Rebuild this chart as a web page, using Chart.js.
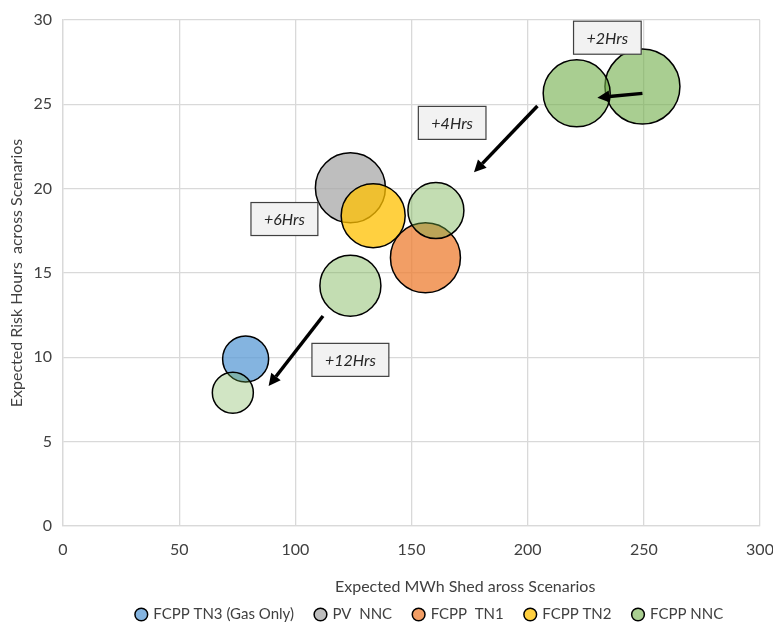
<!DOCTYPE html>
<html>
<head>
<meta charset="utf-8">
<script src="https://cdn.jsdelivr.net/npm/chart.js@4.4.1/dist/chart.umd.min.js"></script>
<style>
  html, body { margin: 0; padding: 0; background: #fff; }
  #wrap { width: 773px; height: 626px; }
</style>
</head>
<body>
<div id="wrap"><canvas id="bubbles"></canvas></div>
<script>
// Series and values
const seriesNames = ["FCPP TN3 (Gas Only)", "PV  NNC", "FCPP  TN1", "FCPP TN2", "FCPP NNC"];
const mwhShed = [
  [78.6],
  [123.7],
  [156.0],
  [133.5],
  [249.4, 221.1, 160.5, 123.7, 73.1]
];
const riskHours = [
  [9.9],
  [20.05],
  [15.9],
  [18.4],
  [26.05, 25.65, 18.7, 14.25, 7.9]
];
const bubbleSize = [
  [23],
  [35],
  [35],
  [32],
  [37.5, 33.5, 28, 30.5, 20.5]
];
const xTicks = [0, 50, 100, 150, 200, 250, 300];
const yTicks = [0, 5, 10, 15, 20, 25, 30];

// Shift annotations (data coordinates)
const shiftLabels = [
  { text: "+2Hrs", x: 234.3, y: 28.95 },
  { text: "+4Hrs", x: 167.5, y: 23.9 },
  { text: "+6Hrs", x: 95.3, y: 18.2 },
  { text: "+12Hrs", x: 123.7, y: 9.85 }
];
const shiftArrows = [
  { from: [249.4, 25.65], to: [230.0, 25.39] },
  { from: [204.2, 24.9], to: [176.9, 20.97] },
  { from: [111.9, 12.45], to: [88.5, 8.3] }
];

const xTitle = "Expected MWh Shed aross Scenarios";

const fills = [
  ["rgba(91,155,213,0.75)"],
  ["rgba(165,165,165,0.72)"],
  ["rgba(237,125,49,0.75)"],
  ["rgba(255,192,0,0.75)"],
  ["rgba(112,173,71,0.6)", "rgba(112,173,71,0.6)", "rgba(112,173,71,0.42)", "rgba(112,173,71,0.42)", "rgba(112,173,71,0.32)"]
];

const FONT = "Lato";

const datasets = seriesNames.map((name, i) => ({
  label: name,
  data: mwhShed[i].map((x, j) => ({ x: x, y: riskHours[i][j], r: bubbleSize[i][j] })),
  backgroundColor: fills[i],
  borderColor: "#000",
  borderWidth: 1.5,
  hoverRadius: 0,
  // later series sit on top
  order: seriesNames.length - 1 - i
}));

const annotations = {
  id: "annotations",
  afterDatasetsDraw(chart) {
    const ctx = chart.ctx;
    const xs = chart.scales.x, ys = chart.scales.y;
    ctx.save();

    // arrows
    ctx.strokeStyle = "#000";
    ctx.fillStyle = "#000";
    ctx.lineWidth = 3.5;
    shiftArrows.forEach(a => {
      const x1 = xs.getPixelForValue(a.from[0]), y1 = ys.getPixelForValue(a.from[1]);
      const x2 = xs.getPixelForValue(a.to[0]), y2 = ys.getPixelForValue(a.to[1]);
      const ang = Math.atan2(y2 - y1, x2 - x1);
      const head = 12, half = 6;
      const bx = x2 - head * Math.cos(ang), by = y2 - head * Math.sin(ang);
      ctx.beginPath();
      ctx.moveTo(x1, y1);
      ctx.lineTo(bx, by);
      ctx.stroke();
      ctx.beginPath();
      ctx.moveTo(x2, y2);
      ctx.lineTo(bx + half * Math.sin(ang), by - half * Math.cos(ang));
      ctx.lineTo(bx - half * Math.sin(ang), by + half * Math.cos(ang));
      ctx.closePath();
      ctx.fill();
    });

    // label boxes
    ctx.font = "italic 16px " + FONT;
    ctx.textAlign = "center";
    ctx.textBaseline = "middle";
    shiftLabels.forEach(l => {
      const cx = xs.getPixelForValue(l.x), cy = ys.getPixelForValue(l.y);
      const w = ctx.measureText(l.text).width + 26, h = 33;
      ctx.fillStyle = "#f2f2f2";
      ctx.fillRect(cx - w / 2, cy - h / 2, w, h);
      ctx.strokeStyle = "#404040";
      ctx.lineWidth = 1.2;
      ctx.strokeRect(cx - w / 2, cy - h / 2, w, h);
      ctx.fillStyle = "#262626";
      ctx.fillText(l.text, cx, cy + 1);
    });

    // x axis title, set right of the plot centre
    const area = chart.chartArea;
    ctx.font = "16px " + FONT;
    ctx.fillStyle = "#404040";
    ctx.fillText(xTitle, area.left + area.width * 0.577, xs.bottom + 2);
    ctx.restore();
  }
};

// legend sits low and a little right of centre
const legendLayout = {
  id: "legendLayout",
  beforeInit(chart) {
    const legend = chart.legend;
    const fit = legend.fit;
    legend.fit = function () {
      fit.call(this);
      this.height = 41;
    };
  },
  afterLayout(chart) {
    chart.legend.left += 50;
    chart.legend.right += 50;
  }
};

new Chart(document.getElementById("bubbles"), {
  type: "bubble",
  data: { datasets: datasets },
  plugins: [annotations, legendLayout],
  options: {
    responsive: true,
    maintainAspectRatio: false,
    animation: false,
    events: [],
    layout: { autoPadding: false, padding: { top: 20, right: 13, left: 0, bottom: 0 } },
    scales: {
      x: {
        type: "linear",
        min: 0,
        max: 300,
        afterBuildTicks: s => { s.ticks = xTicks.map(v => ({ value: v })); },
        afterFit: s => {
          s.height = 59;
          s.paddingLeft = 0;
          s.paddingRight = 0;
        },
        grid: { color: "#d9d9d9", drawTicks: false, lineWidth: 1.3 },
        border: { color: "#d9d9d9", width: 1.3 },
        ticks: { color: "#404040", font: { family: FONT, size: 16 }, padding: 14 }
      },
      y: {
        type: "linear",
        min: 0,
        max: 30,
        afterBuildTicks: s => { s.ticks = yTicks.map(v => ({ value: v })); },
        afterFit: s => {
          s.width = 63;
          s.paddingTop = 0;
          s.paddingBottom = 0;
        },
        grid: { color: "#d9d9d9", drawTicks: false, lineWidth: 1.3 },
        border: { color: "#d9d9d9", width: 1.3 },
        ticks: { color: "#404040", font: { family: FONT, size: 16 }, padding: 11 },
        title: {
          display: true,
          text: "Expected Risk Hours  across Scenarios",
          color: "#404040",
          font: { family: FONT, size: 16 },
          padding: { top: 7, bottom: 0 }
        }
      }
    },
    plugins: {
      tooltip: { enabled: false },
      legend: {
        position: "bottom",
        labels: {
          usePointStyle: true,
          pointStyle: "circle",
          boxWidth: 9,
          boxHeight: 9,
          padding: 22,
          color: "#404040",
          font: { family: FONT, size: 15 },
          sort: (a, b) => a.datasetIndex - b.datasetIndex
        }
      }
    }
  }
});
</script>
</body>
</html>
